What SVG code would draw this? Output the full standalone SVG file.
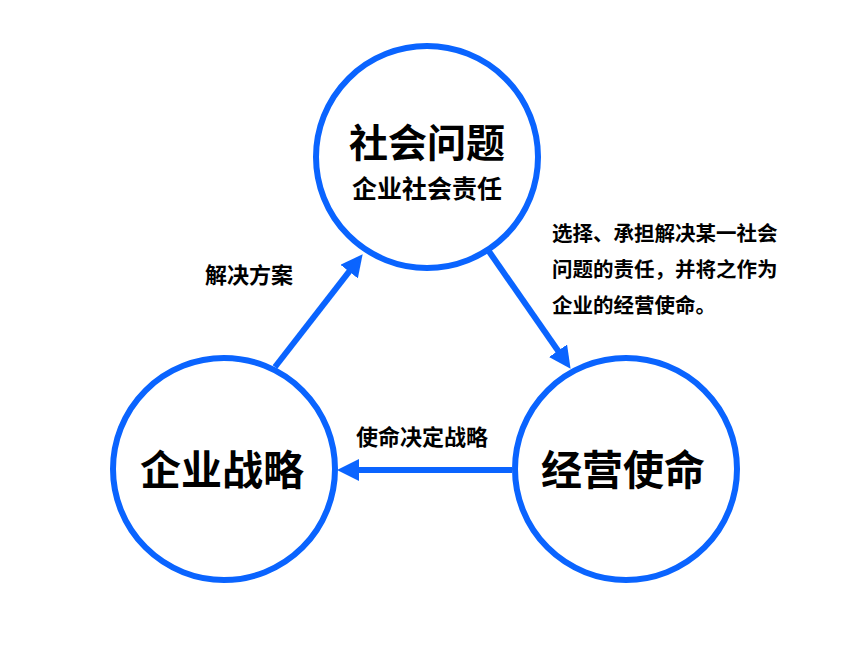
<svg xmlns="http://www.w3.org/2000/svg" width="858" height="662" viewBox="0 0 858 662">
<style>
.c{fill:#fff;stroke:#0A64FF;stroke-width:6}
.t{font-family:"Noto Sans CJK SC","Noto Sans",sans-serif;font-weight:bold;fill:#000;text-anchor:middle}
.l{font-family:"Noto Sans CJK SC","Noto Sans",sans-serif;font-weight:bold;fill:#000;font-size:22px}
.p{font-size:20.5px}
.a{stroke:#0A64FF;stroke-width:6;fill:none;marker-end:url(#ah)}
</style>
<defs>
<marker id="ah" markerUnits="userSpaceOnUse" markerWidth="22" markerHeight="22" refX="10" refY="10" orient="auto" viewBox="0 0 20 20">
<path d="M0,0 L20,10 L0,20 Z" fill="#0A64FF"/>
</marker>
</defs>
<rect width="858" height="662" fill="#fff"/>
<g id="connectors">
<line class="a" x1="275" y1="367" x2="355.9" y2="262.9"/>
<line class="a" x1="488" y1="250" x2="564.3" y2="359.8"/>
<line class="a" x1="512" y1="470" x2="348" y2="470"/>
</g>
<g id="social">
<circle class="c" cx="427" cy="157" r="111"/>
<text class="t" x="427" y="157" font-size="39">社会问题</text>
<text class="t" x="427" y="198" font-size="25">企业社会责任</text>
</g>
<g id="strategy">
<circle class="c" cx="224" cy="469" r="111"/>
<text class="t" x="222" y="485" font-size="41">企业战略</text>
</g>
<g id="mission">
<circle class="c" cx="626" cy="469" r="111"/>
<text class="t" x="623" y="485" font-size="41">经营使命</text>
</g>
<g id="labels">
<text class="l" x="205" y="283">解决方案</text>
<text class="l" x="356" y="445" font-size="23">使命决定战略</text>
<text class="l p" x="552" y="241">选择、承担解决某一社会</text>
<text class="l p" x="552" y="277">问题的责任，并将之作为</text>
<text class="l p" x="552" y="313">企业的经营使命。</text>
</g>
</svg>
